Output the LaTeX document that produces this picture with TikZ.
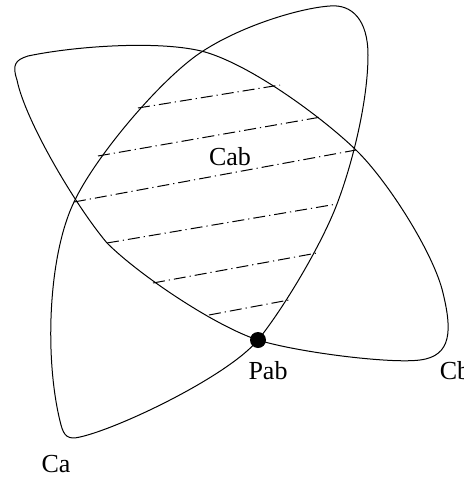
\documentclass[tikz,border=0pt]{standalone}
\usepackage{fontspec}
\setmainfont{Liberation Serif}
\usepackage{tikz}
\usetikzlibrary{positioning}

\begin{document}
\begin{tikzpicture}[x=0.5pt, y=-0.5pt,
    curve/.style={line width=0.5pt},
    hatch/.style={line width=0.5pt, dash pattern=on 6pt off 2pt on 0.6pt off 2pt},
    lbl/.style={font=\fontsize{13}{15}\selectfont, inner sep=0pt}]
  \useasboundingbox (0,0) rectangle (463,477);

  % curve Ca
  \draw[curve] (61,425)
    .. controls (44,360) and (48,256) .. (74,202)
    .. controls (95,157) and (160,80) .. (200,53)
    .. controls (240,26) and (300,8) .. (330,6)
    .. controls (352,4) and (368,20) .. (368,55)
    .. controls (368,100) and (353,162) .. (337,204)
    .. controls (321,246) and (283,309) .. (258,340)
    .. controls (228,376) and (120,428) .. (80,437)
    .. controls (68,440) and (64,436) .. cycle;

  % curve Cb
  \draw[curve] (28,56)
    .. controls (75,46) and (162,40) .. (205,52)
    .. controls (253,66) and (324,119) .. (356,150)
    .. controls (388,181) and (434,254) .. (443,293)
    .. controls (452,330) and (452,356) .. (420,360)
    .. controls (390,364) and (296,352) .. (258,340)
    .. controls (215,326) and (139,275) .. (107,243)
    .. controls (75,205) and (25,120) .. (17,80)
    .. controls (12,65) and (15,60) .. cycle;

  % hatching of Cab
  \draw[hatch] (138,108) -- (280,85);
  \draw[hatch] (98,156) -- (321,117);
  \draw[hatch] (74,202) -- (356,150);
  \draw[hatch] (107,243) -- (337,204);
  \draw[hatch] (153,283) -- (317,253);
  \draw[hatch] (209,315) -- (289,300);

  % point and labels
  \node[circle, fill=black, minimum size=8pt, inner sep=0pt] (pab) at (258,340) {};
  \node[lbl] (cab) at (230,157) {Cab};
  \node[lbl] (pablbl) at (268,371) {Pab};
  \node[lbl] (ca) at (56,464) {Ca};
  \node[lbl] (cb) at (455,371) {Cb};
\end{tikzpicture}
\end{document}
